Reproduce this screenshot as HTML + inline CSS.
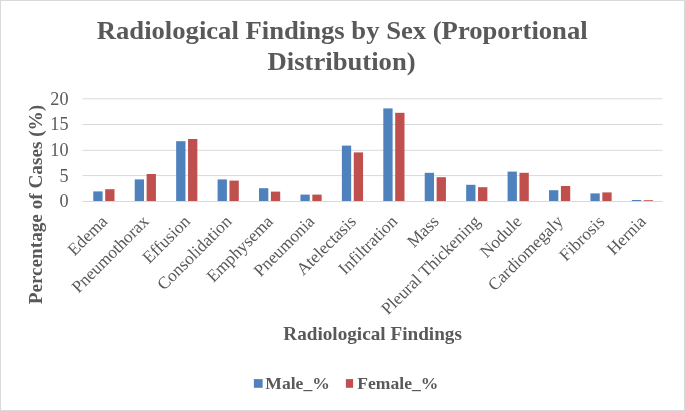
<!DOCTYPE html>
<html><head><meta charset="utf-8"><style>
html,body{margin:0;padding:0;background:#fff;}
body{width:685px;height:411px;overflow:hidden;}
svg{display:block;will-change:transform;font-family:"Liberation Serif", serif;}
</style></head><body>
<svg width="685" height="411" viewBox="0 0 685 411">
<rect x="0.5" y="0.5" width="684" height="410" fill="#fff" stroke="#D9D9D9" stroke-width="1"/>
<line x1="82.4" y1="98.8" x2="662.4" y2="98.8" stroke="#D9D9D9" stroke-width="1"/>
<line x1="82.4" y1="124.5" x2="662.4" y2="124.5" stroke="#D9D9D9" stroke-width="1"/>
<line x1="82.4" y1="150.3" x2="662.4" y2="150.3" stroke="#D9D9D9" stroke-width="1"/>
<line x1="82.4" y1="175.6" x2="662.4" y2="175.6" stroke="#D9D9D9" stroke-width="1"/>
<rect x="93.30" y="191.4" width="9.3" height="9.60" fill="#4F81BD"/>
<rect x="105.20" y="189.2" width="9.3" height="11.80" fill="#C0504D"/>
<rect x="134.73" y="179.4" width="9.3" height="21.60" fill="#4F81BD"/>
<rect x="146.63" y="174.0" width="9.3" height="27.00" fill="#C0504D"/>
<rect x="176.16" y="141.2" width="9.3" height="59.80" fill="#4F81BD"/>
<rect x="188.06" y="139.0" width="9.3" height="62.00" fill="#C0504D"/>
<rect x="217.59" y="179.4" width="9.3" height="21.60" fill="#4F81BD"/>
<rect x="229.49" y="180.6" width="9.3" height="20.40" fill="#C0504D"/>
<rect x="259.01" y="188.2" width="9.3" height="12.80" fill="#4F81BD"/>
<rect x="270.91" y="191.6" width="9.3" height="9.40" fill="#C0504D"/>
<rect x="300.44" y="194.6" width="9.3" height="6.40" fill="#4F81BD"/>
<rect x="312.34" y="194.6" width="9.3" height="6.40" fill="#C0504D"/>
<rect x="341.87" y="145.6" width="9.3" height="55.40" fill="#4F81BD"/>
<rect x="353.77" y="152.4" width="9.3" height="48.60" fill="#C0504D"/>
<rect x="383.30" y="108.4" width="9.3" height="92.60" fill="#4F81BD"/>
<rect x="395.20" y="112.8" width="9.3" height="88.20" fill="#C0504D"/>
<rect x="424.73" y="172.8" width="9.3" height="28.20" fill="#4F81BD"/>
<rect x="436.63" y="177.2" width="9.3" height="23.80" fill="#C0504D"/>
<rect x="466.16" y="184.8" width="9.3" height="16.20" fill="#4F81BD"/>
<rect x="478.06" y="187.2" width="9.3" height="13.80" fill="#C0504D"/>
<rect x="507.59" y="171.6" width="9.3" height="29.40" fill="#4F81BD"/>
<rect x="519.49" y="172.8" width="9.3" height="28.20" fill="#C0504D"/>
<rect x="549.01" y="190.2" width="9.3" height="10.80" fill="#4F81BD"/>
<rect x="560.91" y="186.0" width="9.3" height="15.00" fill="#C0504D"/>
<rect x="590.44" y="193.4" width="9.3" height="7.60" fill="#4F81BD"/>
<rect x="602.34" y="192.4" width="9.3" height="8.60" fill="#C0504D"/>
<rect x="631.87" y="200.0" width="9.3" height="1.00" fill="#4F81BD"/>
<rect x="643.77" y="200.2" width="9.3" height="0.80" fill="#C0504D"/>
<line x1="82.4" y1="201.5" x2="662.4" y2="201.5" stroke="#D9D9D9" stroke-width="1"/>
<g fill="#595959">
<text transform="translate(68.50,104.80)" text-anchor="end" font-size="18.2">20</text>
<text transform="translate(68.50,130.40)" text-anchor="end" font-size="18.2">15</text>
<text transform="translate(68.50,156.00)" text-anchor="end" font-size="18.2">10</text>
<text transform="translate(68.50,181.50)" text-anchor="end" font-size="18.2">5</text>
<text transform="translate(68.50,207.10)" text-anchor="end" font-size="18.2">0</text>
<text transform="translate(108.31,222.50) rotate(-45)" text-anchor="end" font-size="17.3">Edema</text>
<text transform="translate(149.74,222.50) rotate(-45)" text-anchor="end" font-size="17.3">Pneumothorax</text>
<text transform="translate(191.17,222.50) rotate(-45)" text-anchor="end" font-size="17.3">Effusion</text>
<text transform="translate(232.60,222.50) rotate(-45)" text-anchor="end" font-size="17.3">Consolidation</text>
<text transform="translate(274.03,222.50) rotate(-45)" text-anchor="end" font-size="17.3">Emphysema</text>
<text transform="translate(315.46,222.50) rotate(-45)" text-anchor="end" font-size="17.3">Pneumonia</text>
<text transform="translate(356.89,222.50) rotate(-45)" text-anchor="end" font-size="17.3">Atelectasis</text>
<text transform="translate(398.31,222.50) rotate(-45)" text-anchor="end" font-size="17.3">Infiltration</text>
<text transform="translate(439.74,222.50) rotate(-45)" text-anchor="end" font-size="17.3">Mass</text>
<text transform="translate(481.17,222.50) rotate(-45)" text-anchor="end" font-size="17.3">Pleural Thickening</text>
<text transform="translate(522.60,222.50) rotate(-45)" text-anchor="end" font-size="17.3">Nodule</text>
<text transform="translate(564.03,222.50) rotate(-45)" text-anchor="end" font-size="17.3">Cardiomegaly</text>
<text transform="translate(605.46,222.50) rotate(-45)" text-anchor="end" font-size="17.3">Fibrosis</text>
<text transform="translate(646.89,222.50) rotate(-45)" text-anchor="end" font-size="17.3">Hernia</text>
<text transform="translate(342.20,38.90) scale(1,0.96)" text-anchor="middle" font-size="26.65" font-weight="bold">Radiological Findings by Sex (Proportional</text>
<text transform="translate(341.60,69.60) scale(1,0.96)" text-anchor="middle" font-size="26.65" font-weight="bold">Distribution)</text>
<text transform="translate(41.60,204.60) rotate(-90) scale(1,0.95)" text-anchor="middle" font-size="19.2" font-weight="bold">Percentage of Cases (%)</text>
<text transform="translate(372.60,339.50) scale(1,0.95)" text-anchor="middle" font-size="19.2" font-weight="bold">Radiological Findings</text>
</g>
<rect x="253.9" y="379.1" width="8.7" height="8.7" fill="#4F81BD"/>
<rect x="345.9" y="379.1" width="7.2" height="8.7" fill="#C0504D"/>
<g fill="#595959">
<text transform="translate(265.30,388.60) scale(1,0.97)" font-size="17.6" font-weight="bold">Male_%</text>
<text transform="translate(357.30,388.60) scale(1,0.97)" font-size="17.6" font-weight="bold">Female_%</text>
</g>
</svg>
</body></html>
